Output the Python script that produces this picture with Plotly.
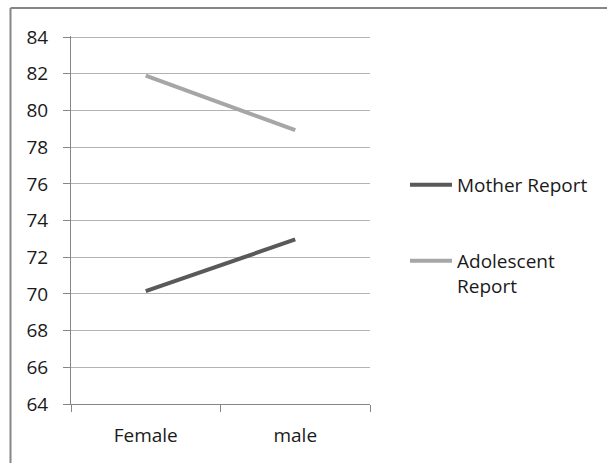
import plotly.graph_objects as go

# Report scores by gender
genders = ["Female", "male"]
mother_report = [70.15, 72.97]
adolescent_report = [81.9, 78.93]
series_names = ["Mother Report", "Adolescent<br>Report"]
series_colors = ["#595959", "#a6a6a6"]
y_ticks = [64, 66, 68, 70, 72, 74, 76, 78, 80, 82, 84]
y_range = [64, 84.06]

W, H = 607, 463
L, R, T, B = 71, 370, 36, 404
pw, ph = R - L, B - T

fig = go.Figure()
for i, (name, vals) in enumerate(zip(series_names, [mother_report, adolescent_report])):
    fig.add_trace(go.Scatter(
        x=genders, y=vals, name=name, mode="lines",
        line=dict(color=series_colors[i], width=4),
        legend="legend" if i == 0 else "legend2",
    ))

font = dict(family="Open Sans, Noto Sans, sans-serif", size=19, color="#1a1a1a")


def px_x(x):
    return (x - L) / pw


def px_y(y):
    return 1 - (y - T) / ph


legend_common = dict(xanchor="left", yanchor="top", bgcolor="rgba(0,0,0,0)",
                     font=font, itemwidth=42, valign="top",
                     borderwidth=0, tracegroupgap=0)

fig.update_layout(
    width=W, height=H,
    margin=dict(l=L, r=W - R, t=T, b=H - B, pad=0),
    paper_bgcolor="white", plot_bgcolor="white",
    font=font,
    showlegend=True,
    legend=dict(x=px_x(405), y=px_y(166), **legend_common),
    legend2=dict(x=px_x(405), y=px_y(242), **legend_common),
    xaxis=dict(
        type="category", range=[-0.5, 1.5], showgrid=False,
        showline=True, linecolor="#868686", linewidth=1,
        ticks="outside", tickson="boundaries", ticklen=7, tickcolor="#868686",
        tickfont=font, ticklabelstandoff=14, fixedrange=True,
    ),
    yaxis=dict(
        range=y_range, tickvals=y_ticks, showgrid=True, gridcolor="#b3b3b3",
        gridwidth=1, zeroline=False,
        showline=True, linecolor="#868686", linewidth=1,
        ticks="outside", ticklen=7, tickcolor="#868686",
        tickfont=font, ticklabelstandoff=11, fixedrange=True,
    ),
    shapes=[
        # outer chart frame (top and left edges)
        dict(type="line", xref="paper", yref="paper",
             x0=px_x(10.5), x1=px_x(W + 5), y0=px_y(8), y1=px_y(8),
             line=dict(color="#868686", width=2)),
        dict(type="line", xref="paper", yref="paper",
             x0=px_x(10.5), x1=px_x(10.5), y0=px_y(8), y1=px_y(H + 5),
             line=dict(color="#868686", width=2)),
    ],
)

fig.write_html("out.html")
